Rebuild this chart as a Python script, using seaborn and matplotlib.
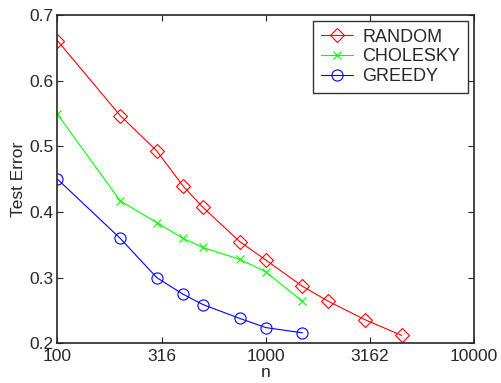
import pandas as pd
import seaborn as sns
import matplotlib.pyplot as plt

# values
n_random = [100, 200, 300, 400, 500, 750, 1000, 1500, 2000, 3000, 4500]
err_random = [0.661, 0.547, 0.493, 0.440, 0.407, 0.355, 0.327, 0.287, 0.264, 0.236, 0.212]

n_chol = [100, 200, 300, 400, 500, 750, 1000, 1500]
err_chol = [0.549, 0.417, 0.384, 0.360, 0.346, 0.328, 0.309, 0.264]

n_greedy = [100, 200, 300, 400, 500, 750, 1000, 1500]
err_greedy = [0.450, 0.360, 0.300, 0.275, 0.259, 0.238, 0.224, 0.216]

xticks = [100, 316, 1000, 3162, 10000]
yticks = [0.2, 0.3, 0.4, 0.5, 0.6, 0.7]

sns.set_style("ticks")
plt.rcParams['font.family'] = ['Liberation Sans', 'DejaVu Sans']
plt.rcParams['xtick.direction'] = 'in'
plt.rcParams['ytick.direction'] = 'in'

fig = plt.figure(figsize=(5.02, 3.83), dpi=100)
ax = fig.add_axes([0.1145, 0.1036, 0.8295, 0.857])

series = [
    ("RANDOM", n_random, err_random, "#ff0000", "D", 7),
    ("CHOLESKY", n_chol, err_chol, "#00ff00", "x", 6),
    ("GREEDY", n_greedy, err_greedy, "#0000ff", "o", 8),
]
for name, xs, ys, col, mk, ms in series:
    df = pd.DataFrame({"n": xs, "err": ys})
    sns.lineplot(data=df, x="n", y="err", ax=ax, color=col, marker=mk,
                 markersize=ms, markerfacecolor="none", markeredgecolor=col,
                 markeredgewidth=0.8, linewidth=0.8, label=name)

ax.set_xscale("log")
ax.set_xlim(100, 10000)
ax.set_ylim(0.2, 0.7)
ax.set_xticks(xticks)
ax.set_xticklabels([str(t) for t in xticks])
ax.minorticks_off()
ax.set_yticks(yticks)
ax.set_yticklabels([f"{t:.1f}" for t in yticks])
ax.tick_params(labelsize=12.5, top=True, right=True, length=4, width=0.8)
ax.tick_params(axis="x", pad=4)
ax.tick_params(axis="y", pad=3)
for s in ax.spines.values():
    s.set_linewidth(1.2)
ax.set_xlabel("n", fontsize=12.5, labelpad=1)
ax.set_ylabel("Test Error", fontsize=12.5, labelpad=2)

leg = ax.legend(loc="upper right", fontsize=13, frameon=True, fancybox=False,
                edgecolor="black", borderaxespad=0.3, handlelength=1.8,
                handletextpad=0.5, labelspacing=0.15, borderpad=0.45,
                numpoints=1)
leg.get_frame().set_linewidth(1.0)

fig.savefig("out.png", dpi=100)
